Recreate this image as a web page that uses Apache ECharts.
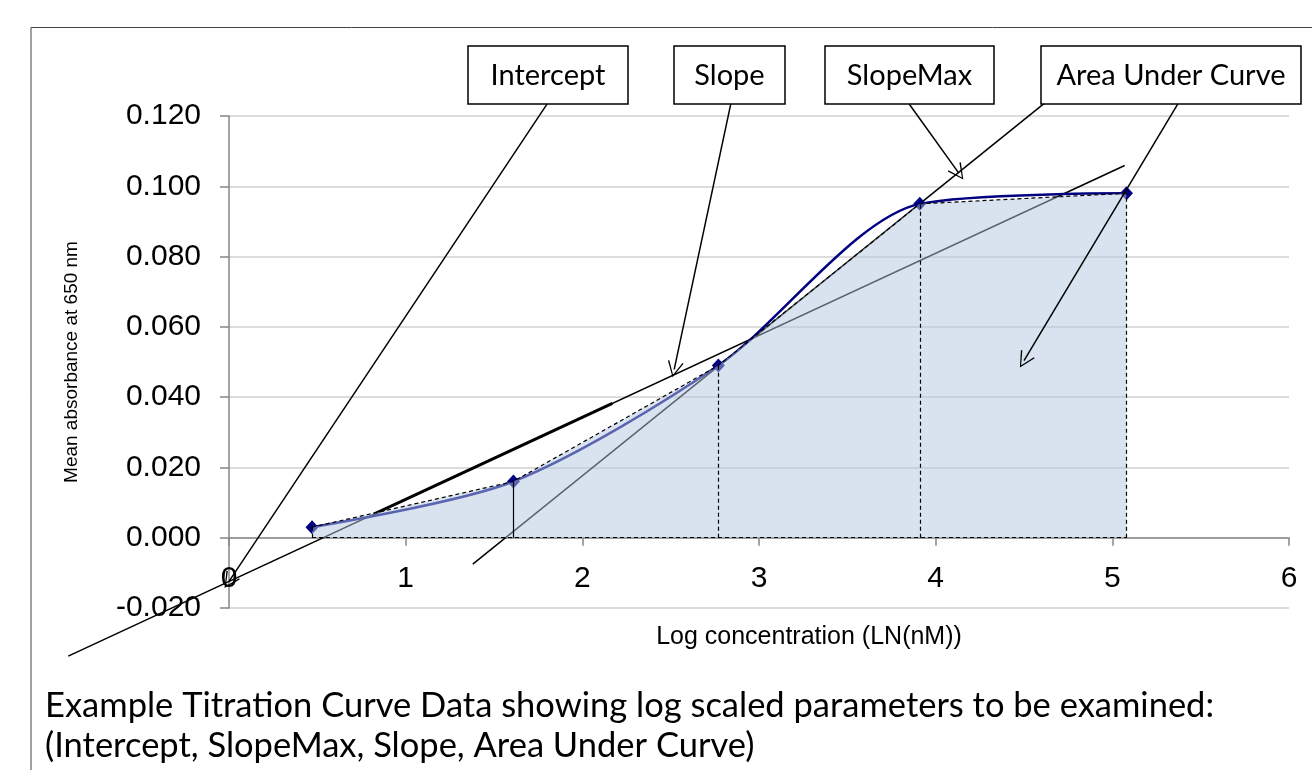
<!DOCTYPE html>
<html>
<head>
<meta charset="utf-8">
<script src="https://cdn.jsdelivr.net/npm/echarts@6/dist/echarts.min.js"></script>
<style>
  html, body { margin: 0; padding: 0; background: #fff; }
  #chart { width: 1312px; height: 770px; }
</style>
</head>
<body>
<div id="chart"></div>
<script>
// data
var logConc = [0.47, 1.61, 2.77, 3.91, 5.08];
var absorbance = [0.003, 0.016, 0.049, 0.095, 0.098];
var xTicks = [0, 1, 2, 3, 4, 5, 6];
var yTicks = [-0.02, 0, 0.02, 0.04, 0.06, 0.08, 0.10, 0.12];

// fitted lines (end points, data units)
var fitLine = [[-0.91, -0.0337], [5.07, 0.1059]];
var fitHighlight = [[0.82, 0.0067], [2.17, 0.0382]];
var slopeMaxLine = [[1.38, -0.0075], [4.62, 0.1238]];

// callouts
var calloutLabels = ['Intercept', 'Slope', 'SlopeMax', 'Area Under Curve'];
var calloutFrom = [[1.80, 0.1234], [2.84, 0.1234], [3.85, 0.1234], [5.37, 0.1234]];
var calloutTo = [[0.0, -0.0124], [2.52, 0.0479], [4.13, 0.1038], [4.50, 0.0504]];

var caption = [
    'Example Titration Curve Data showing log scaled parameters to be examined:',
    '(Intercept, SlopeMax, Slope, Area Under Curve)'
];

var points = logConc.map(function(x, i){ return [x, absorbance[i]]; });

// dashed outline of the trapezoids
var outline = logConc.map(function(x, i){
    return {
        coords: [[x, 0], [x, absorbance[i]]],
        lineStyle: { type: i == 1 ? 'solid' : [4, 3] }
    };
});
outline.push({ coords: [[logConc[0], 0], [logConc[logConc.length - 1], 0]], lineStyle: { type: [4, 3] } });

var arrows = calloutFrom.map(function(p, i){
    return { coords: [p, calloutTo[i]] };
});

// callout boxes (pixel layout)
var boxes = [
    { x: 468, w: 160 },
    { x: 674, w: 111 },
    { x: 825, w: 169 },
    { x: 1041, w: 260 }
];

var graphics = [{
    type: 'rect',
    shape: { x: 31, y: 27.5, width: 1400, height: 900 },
    style: { fill: 'none', stroke: '#444', lineWidth: 1 },
    z: 0
}];
boxes.forEach(function(b, i){
    graphics.push({
        type: 'rect',
        shape: { x: b.x, y: 46, width: b.w, height: 58 },
        style: { fill: '#fff', stroke: '#000', lineWidth: 1.5 },
        z: 100
    });
    graphics.push({
        type: 'text',
        x: b.x + b.w / 2, y: 76,
        style: { text: calloutLabels[i], fill: '#000', font: '29px Lato', textAlign: 'center', textVerticalAlign: 'middle' },
        z: 101
    });
});
caption.forEach(function(line, i){
    graphics.push({
        type: 'text',
        x: 45, y: 706 + i * 40,
        style: { text: line, fill: '#000', font: '34.5px Lato', textAlign: 'left', textVerticalAlign: 'middle' },
        z: 101
    });
});

var chevron = 'path://M10,0 L20,20 L18.4,20.8 L10,3.2 L1.6,20.8 L0,20 Z';

var myChart = echarts.init(document.getElementById('chart'));
var option = {
    backgroundColor: '#fff',
    animation: false,
    grid: { left: 229, right: 23, top: 116, bottom: 162 },
    xAxis: {
        type: 'value', min: 0, max: 6, interval: 1,
        offset: -70.3,   // sits on y = 0
        name: 'Log concentration (LN(nM))',
        nameLocation: 'middle', nameGap: 87,
        nameTextStyle: { fontFamily: 'Liberation Sans', fontSize: 25, color: '#000', padding: [0, 0, 0, 100] },
        axisLine: { onZero: false, lineStyle: { color: '#868686', width: 1.5 } },
        axisTick: { show: true, length: 8, lineStyle: { color: '#868686', width: 1.5 } },
        axisLabel: {
            fontFamily: 'Liberation Sans', fontSize: 30, color: '#000', margin: 26,
            formatter: function(v){ return xTicks.indexOf(v) >= 0 ? String(v) : ''; }
        },
        splitLine: { show: false }
    },
    yAxis: {
        type: 'value', min: -0.02, max: 0.12, interval: 0.02,
        name: 'Mean absorbance at 650 nm',
        nameLocation: 'middle', nameGap: 148, nameRotate: 90,
        nameTextStyle: { fontFamily: 'Liberation Sans', fontSize: 19, color: '#000' },
        axisLine: { show: true, lineStyle: { color: '#868686', width: 1.5 } },
        axisTick: { show: true, length: 9, lineStyle: { color: '#868686', width: 1.5 } },
        axisLabel: {
            fontFamily: 'Liberation Sans', fontSize: 30, color: '#000', margin: 28,
            formatter: function(v){ return v.toFixed(3); }
        },
        splitLine: { lineStyle: { color: '#d0d0d0', width: 1.5 } }
    },
    graphic: graphics,
    series: [
        {
            name: 'fit', type: 'lines', coordinateSystem: 'cartesian2d', clip: false,
            data: [{ coords: fitLine }],
            lineStyle: { color: '#000', width: 1.5, opacity: 1 }, z: 2
        },
        {
            name: 'fit highlight', type: 'lines', coordinateSystem: 'cartesian2d', clip: false,
            data: [{ coords: fitHighlight }],
            lineStyle: { color: '#000', width: 3, opacity: 1 }, z: 2
        },
        {
            name: 'slope max', type: 'lines', coordinateSystem: 'cartesian2d', clip: false,
            data: [{ coords: slopeMaxLine }],
            lineStyle: { color: '#000', width: 1.5, opacity: 1 }, z: 2
        },
        {
            name: 'curve', type: 'line', data: points, smooth: 0.28,
            symbol: 'diamond', symbolSize: [13, 14],
            itemStyle: { color: '#000080' },
            lineStyle: { color: '#000080', width: 2.5 }, z: 3
        },
        {
            name: 'area', type: 'line', data: points, smooth: false, symbol: 'none',
            lineStyle: { color: '#000', width: 1.2, type: [4, 3] },
            areaStyle: { color: 'rgba(180,200,226,0.5)', opacity: 1, origin: 0 }, z: 4
        },
        {
            name: 'outline', type: 'lines', coordinateSystem: 'cartesian2d', clip: false,
            data: outline,
            lineStyle: { color: '#000', width: 1.2, opacity: 1 }, z: 5
        },
        {
            name: 'callouts', type: 'lines', coordinateSystem: 'cartesian2d', clip: false,
            data: arrows, symbol: ['none', chevron], symbolSize: [14, 16],
            lineStyle: { color: '#000', width: 1.5, opacity: 1 }, z: 6
        }
    ]
};
myChart.setOption(option);
</script>
</body>
</html>
